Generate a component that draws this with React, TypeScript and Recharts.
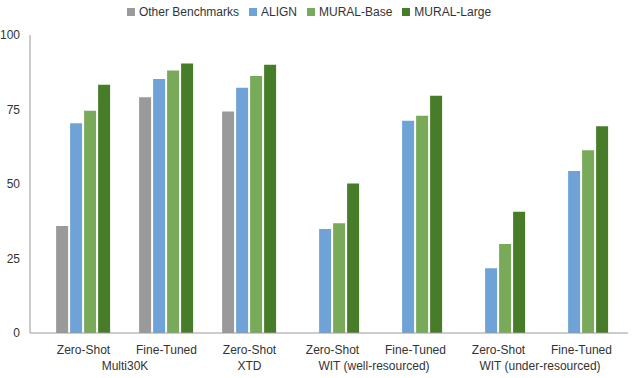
import { BarChart, Bar, XAxis, YAxis, Legend } from 'recharts';

const categories = ['Zero-Shot', 'Fine-Tuned', 'Zero-Shot', 'Zero-Shot', 'Fine-Tuned', 'Zero-Shot', 'Fine-Tuned'];
const otherBenchmarks = [35.9, 79.1, 74.3, null, null, null, null];
const align = [70.4, 85.2, 82.3, 34.9, 71.2, 21.7, 54.4];
const muralBase = [74.6, 88.1, 86.2, 36.8, 72.9, 29.9, 61.3];
const muralLarge = [83.3, 90.4, 90.0, 50.2, 79.6, 40.7, 69.4];
const seriesNames = ['Other Benchmarks', 'ALIGN', 'MURAL-Base', 'MURAL-Large'];
// group label, index of first category, number of categories
const groups: [string, number, number][] = [
  ['Multi30K', 0, 2],
  ['XTD', 2, 1],
  ['WIT (well-resourced)', 3, 2],
  ['WIT (under-resourced)', 5, 2],
];
const yTicks = [0, 25, 50, 75, 100];

const data = categories.map((c, i) => ({
  name: c,
  other: otherBenchmarks[i],
  align: align[i],
  base: muralBase[i],
  large: muralLarge[i],
}));

const FONT = '"Liberation Sans", Arial, sans-serif';
const BAND = 83;

function CategoryTick(props: any) {
  const { x, y, payload } = props;
  const idx = payload.index;
  const g = groups.find((gr) => gr[1] === idx);
  return (
    <g>
      <text x={x} y={y + 13} textAnchor="middle" fontSize={12} fill="#333" fontFamily={FONT}>
        {payload.value}
      </text>
      {g && (
        <text x={x + ((g[2] - 1) * BAND) / 2} y={y + 29} textAnchor="middle" fontSize={12} fill="#333" fontFamily={FONT}>
          {g[0]}
        </text>
      )}
    </g>
  );
}

export default function App() {
  return (
    <div style={{ width: 640, height: 378, background: '#fff', fontFamily: FONT }}>
      <style>{`body{margin:0}`}</style>
      <BarChart
        width={640}
        height={378}
        data={data}
        margin={{ top: 17, right: 12, left: 0, bottom: 0 }}
        barCategoryGap="17%"
        barGap={2}
      >
        <Legend
          verticalAlign="top"
          align="center"
          iconType="square"
          iconSize={8}
          wrapperStyle={{ top: 2 }}
          itemSorter={(item: any) => seriesNames.indexOf(item.value)}
          formatter={(v) => <span style={{ color: '#333', fontSize: 12 }}>{v}</span>}
        />
        <XAxis
          dataKey="name"
          height={45}
          padding={{ left: 12, right: 5 }}
          axisLine={{ stroke: '#999' }}
          tickLine={false}
          tick={<CategoryTick />}
          interval={0}
        />
        <YAxis
          width={30}
          domain={[0, 100]}
          ticks={yTicks}
          axisLine={{ stroke: '#999' }}
          tickLine={false}
          tickMargin={4}
          tick={{ fontSize: 12, fill: '#333', fontFamily: FONT }}
        />
        <Bar dataKey="other" name="Other Benchmarks" fill="#9a9a9a" isAnimationActive={false} />
        <Bar dataKey="align" name="ALIGN" fill="#6fa3d8" isAnimationActive={false} />
        <Bar dataKey="base" name="MURAL-Base" fill="#78aa5a" isAnimationActive={false} />
        <Bar dataKey="large" name="MURAL-Large" fill="#477d28" isAnimationActive={false} />
      </BarChart>
    </div>
  );
}
